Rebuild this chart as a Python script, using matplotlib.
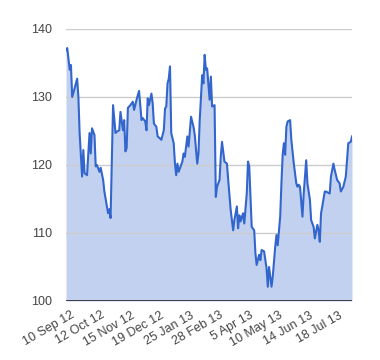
import matplotlib
matplotlib.use("Agg")
import matplotlib.pyplot as plt
import matplotlib.transforms as mtransforms

# trading day (index since 10 Sep 12) and closing value
days = [0, 1, 3, 4, 5, 7, 9, 10, 11, 13, 14, 15, 17, 19, 20, 21, 23, 24, 25, 27,
        28, 30, 31, 33, 34, 35, 36, 37, 38, 40, 41, 43, 44, 46, 47, 48, 49, 50, 52, 54,
        55, 57, 59, 61, 62, 64, 65, 66, 67, 69, 70, 71, 73, 74, 76, 77, 79, 80, 81, 82,
        83, 84, 85, 87, 88, 89, 90, 91, 94, 95, 96, 98, 99, 101, 103, 104, 106, 107, 108, 110,
        111, 112, 113, 114, 116, 117, 118, 120, 121, 122, 124, 125, 126, 128, 130, 131, 133, 135, 136, 138,
        139, 140, 141, 143, 144, 146, 147, 148, 150, 152, 153, 154, 156, 157, 158, 160, 161, 162, 163, 164,
        166, 167, 169, 170, 171, 173, 174, 175, 176, 177, 178, 179, 181, 182, 184, 186, 187, 188, 189, 191,
        192, 194, 195, 197, 198, 199, 200, 201, 203, 204, 205, 206, 207, 209, 210, 213, 214, 216, 217, 219,
        221, 222, 224, 226, 227, 228, 230, 231]
values = [136.9, 137.2, 134.0, 134.7, 130.0, 131.3, 132.7, 130.0, 124.7, 118.3, 122.2, 118.8, 118.5, 124.7, 121.7, 125.4, 124.4, 119.8, 120.0, 119.0,
          119.6, 117.8, 116.1, 113.9, 112.9, 113.5, 112.2, 120.7, 128.8, 124.7, 124.9, 125.1, 127.8, 125.1, 126.6, 122.0, 122.5, 128.4, 128.8, 129.3,
          128.1, 129.6, 130.9, 126.6, 126.9, 126.4, 125.1, 129.8, 128.8, 130.5, 129.1, 126.1, 125.6, 124.2, 123.9, 123.7, 125.1, 128.3, 128.6, 132.0,
          132.7, 134.5, 124.7, 123.2, 120.2, 118.5, 120.2, 119.0, 120.5, 121.7, 121.2, 124.2, 122.7, 127.1, 125.6, 124.4, 120.2, 121.7, 126.6, 133.2,
          132.0, 136.2, 134.0, 134.2, 129.6, 133.0, 128.6, 128.8, 115.3, 116.8, 117.8, 121.2, 123.4, 120.5, 120.2, 117.8, 113.4, 110.4, 111.9, 113.9,
          110.7, 112.6, 111.7, 112.9, 111.4, 115.8, 120.5, 119.8, 110.9, 110.4, 107.0, 105.3, 106.8, 106.0, 107.5, 107.3, 106.0, 104.8, 102.1, 105.0,
          102.1, 103.6, 108.0, 109.7, 108.2, 112.4, 117.3, 121.5, 123.2, 121.5, 125.6, 126.4, 126.6, 123.7, 120.2, 117.3, 116.8, 117.1, 116.8, 112.4,
          115.8, 120.7, 117.3, 114.9, 111.9, 111.4, 110.9, 109.2, 111.2, 110.4, 108.7, 112.9, 113.9, 116.1, 116.1, 115.8, 118.3, 120.2, 119.3, 117.8,
          117.3, 116.1, 116.8, 118.3, 120.7, 123.2, 123.4, 124.2]

tick_days = [0, 24, 48, 72, 96, 120, 144, 168, 192, 216]
tick_labels = ["10 Sep 12", "12 Oct 12", "15 Nov 12", "19 Dec 12", "25 Jan 13",
               "28 Feb 13", "5 Apr 13", "10 May 13", "14 Jun 13", "18 Jul 13"]
y_ticks = [100, 110, 120, 130, 140]

plt.rcParams['font.family'] = ['Liberation Sans', 'DejaVu Sans']

fig = plt.figure(figsize=(3.8, 3.6), dpi=100)
ax = fig.add_axes([66 / 380, 1 - 301 / 360, 286 / 380, 272 / 360])

line_color = '#3366cc'
ax.fill_between(days, values, 100, color='#c2d1f0', lw=0, zorder=1)
for y in y_ticks[1:]:
    ax.axhline(y, color='#cccccc', lw=1, zorder=2)
ax.plot(days, values, color=line_color, lw=1.5, zorder=3, solid_joinstyle='round')
ax.axhline(100, color='#333333', lw=1.3, zorder=4)

ax.set_xlim(0, 231)
ax.set_ylim(100, 140)
ax.set_yticks(y_ticks)
ax.set_xticks(tick_days)
ax.set_xticklabels(tick_labels, rotation=30, ha='right', va='top', rotation_mode='anchor')
ax.tick_params(axis='both', length=0, labelsize=9, colors='#444444')
ax.tick_params(axis='y', pad=10)
ax.tick_params(axis='x', pad=6)

offset = mtransforms.ScaledTranslation(5 / 100, 0, fig.dpi_scale_trans)
for lbl in ax.get_xticklabels():
    lbl.set_transform(lbl.get_transform() + offset)

for s in ax.spines.values():
    s.set_visible(False)

fig.savefig('out.png', dpi=100)
